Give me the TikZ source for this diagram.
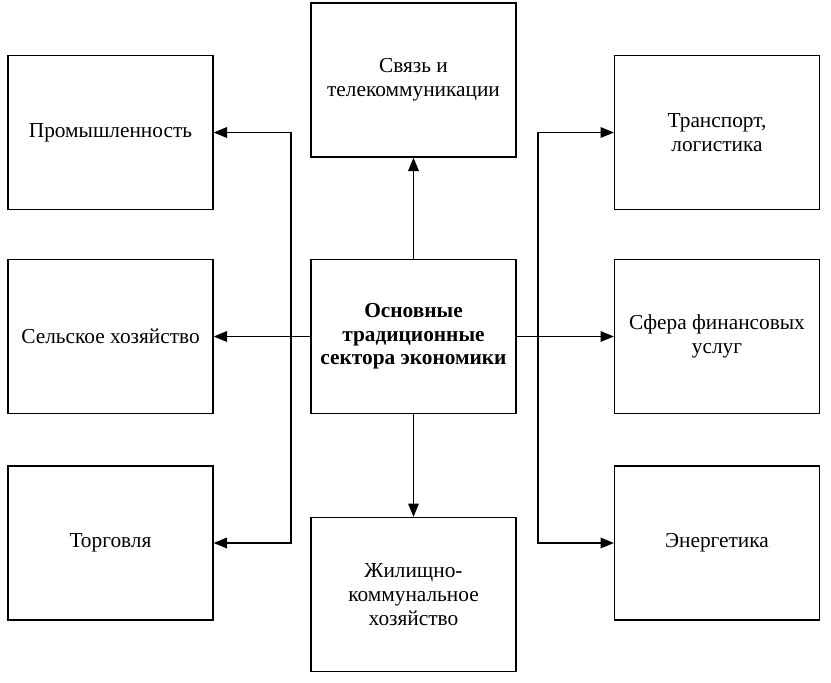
\documentclass[tikz,border=0pt]{standalone}
\usepackage{fontspec}
\setmainfont{Liberation Serif}
\usetikzlibrary{arrows.meta}

\begin{document}
\begin{tikzpicture}[
    x=0.75pt,y=-0.75pt,
    sect/.style={draw,line width=1pt,minimum width=153.75pt,
                 minimum height=115.5pt,align=center,inner sep=2pt,
                 font=\fontsize{16}{18}\selectfont},
    core/.style={sect,font=\fontsize{16}{17.6}\selectfont\bfseries},
    link/.style={-{Triangle[length=10pt,width=8pt]},line width=0.9pt},
  ]
    \useasboundingbox (0,0) rectangle (831,682);

    % Sectors
    \node[core] (base)  at (413.5,336.5) {Основные\\традиционные\\сектора экономики};
    \node[sect] (telec) at (413.5,80)    {Связь и\\телекоммуникации};
    \node[sect] (house) at (413.5,594.5) {Жилищно-\\коммунальное\\хозяйство};
    \node[sect] (indus) at (110.5,132.5) {Промышленность};
    \node[sect] (agri)  at (110.5,336.5) {Сельское хозяйство};
    \node[sect] (trade) at (110.5,543)   {Торговля};
    \node[sect] (trans) at (717,132.5)   {Транспорт,\\логистика};
    \node[sect] (finan) at (717,336.5)   {Сфера финансовых\\услуг};
    \node[sect] (energ) at (717,543)     {Энергетика};

    % Branch points
    \coordinate (lbus) at (291,336.5);
    \coordinate (rbus) at (538,336.5);

    % Links
    \draw[link] (base) -- (telec);
    \draw[link] (base) -- (house);
    \draw[link] (base) -- (agri);
    \draw[link] (base) -- (finan);
    \draw[link] (lbus) |- (indus);
    \draw[link] (lbus) |- (trade);
    \draw[link] (rbus) |- (trans);
    \draw[link] (rbus) |- (energ);

\end{tikzpicture}
\end{document}
